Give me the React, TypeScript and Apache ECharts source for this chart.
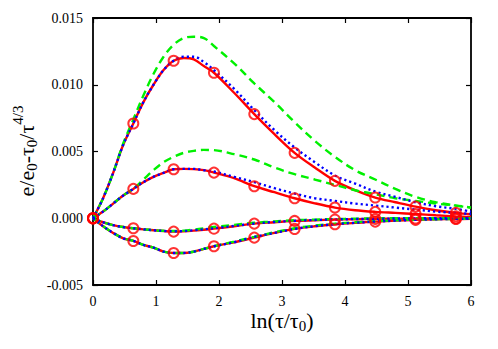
import React, { useEffect, useRef } from "react";
import * as echarts from "echarts";

const xs = [0, 0.16, 0.32, 0.48, 0.64, 0.8, 0.96, 1.12, 1.28, 1.44, 1.6, 1.76, 1.92, 2.24, 2.56, 2.88, 3.2, 3.52, 3.84, 4.16, 4.48, 4.8, 5.12, 5.44, 5.76, 6];

const red1 = [0, 0.0015, 0.0034, 0.0055, 0.0071, 0.0087, 0.0100, 0.0111, 0.0118, 0.0120, 0.0119, 0.0114, 0.0109, 0.0094, 0.0078, 0.0063, 0.0049, 0.0038, 0.0028, 0.0021, 0.00155, 0.0012, 0.00087, 0.0006, 0.0004, 0.0003];
const blue1 = [0, 0.0015, 0.0034, 0.0055, 0.0071, 0.0087, 0.0100, 0.0111, 0.0118, 0.0121, 0.0121, 0.0117, 0.0111, 0.0097, 0.0081, 0.0066, 0.0053, 0.0042, 0.0032, 0.0026, 0.0020, 0.0016, 0.0012, 0.0009, 0.0007, 0.0005];
const green1 = [0, 0.0015, 0.0034, 0.0056, 0.0074, 0.0092, 0.0108, 0.0121, 0.0130, 0.0135, 0.0136, 0.0135, 0.0129, 0.0116, 0.0101, 0.0087, 0.0072, 0.0058, 0.0046, 0.0036, 0.0029, 0.0022, 0.0016, 0.0012, 0.00095, 0.0008];

const red2 = [0, 0.0005, 0.0011, 0.0017, 0.0022, 0.0027, 0.0031, 0.0034, 0.00367, 0.0037, 0.00368, 0.0036, 0.00342, 0.0030, 0.0024, 0.00195, 0.0015, 0.00112, 0.0008, 0.0006, 0.00048, 0.0004, 0.00032, 0.00022, 0.00014, 0.0001];
const blue2 = [0, 0.0005, 0.0011, 0.0017, 0.0022, 0.0027, 0.0031, 0.0034, 0.00367, 0.0037, 0.0037, 0.0036, 0.0035, 0.0031, 0.0027, 0.00225, 0.00185, 0.0015, 0.0013, 0.0011, 0.00095, 0.0008, 0.00065, 0.0005, 0.0004, 0.00032];
const green2 = [0, 0.0005, 0.0011, 0.0017, 0.0022, 0.0029, 0.0036, 0.0042, 0.0046, 0.0049, 0.00505, 0.00512, 0.0051, 0.0048, 0.0044, 0.0038, 0.0033, 0.0029, 0.0025, 0.0021, 0.0018, 0.0015, 0.0013, 0.0011, 0.00095, 0.0008];

const red3 = [0, -0.0003, -0.00052, -0.00066, -0.00075, -0.00083, -0.0009, -0.00096, -0.001, -0.00098, -0.00093, -0.00086, -0.00078, -0.0006, -0.0004, -0.0003, -0.0002, -0.00015, -0.0001, -0.00007, -0.00005, -0.00003, -0.00002, -0.00001, -0.00001, 0];
const blue3 = [0, -0.0003, -0.00052, -0.00066, -0.00075, -0.00083, -0.0009, -0.00095, -0.00098, -0.00096, -0.0009, -0.00083, -0.00075, -0.00058, -0.0004, -0.00028, -0.00019, -0.00013, -0.00009, -0.00006, -0.00004, -0.00002, -0.00001, 0, 0, 0];
const green3 = [0, -0.0003, -0.00052, -0.00066, -0.00075, -0.00083, -0.0009, -0.00094, -0.00096, -0.00093, -0.00085, -0.00076, -0.00066, -0.0005, -0.00034, -0.00024, -0.00015, -0.0001, -0.00006, -0.00003, -0.00001, 0, 0, 0, 0, 0];

const red4 = [0, -0.0006, -0.0011, -0.0015, -0.0017, -0.002, -0.0022, -0.0025, -0.0026, -0.0026, -0.0025, -0.0023, -0.0021, -0.0018, -0.00145, -0.0011, -0.0008, -0.0006, -0.00045, -0.00035, -0.00025, -0.00018, -0.00012, -0.00008, -0.00006, -0.00004];
const blue4 = [0, -0.0006, -0.0011, -0.0015, -0.0017, -0.002, -0.0022, -0.0025, -0.0026, -0.0026, -0.0025, -0.0023, -0.0021, -0.0018, -0.0014, -0.0011, -0.0008, -0.0006, -0.00044, -0.00034, -0.00025, -0.00018, -0.00012, -0.00008, -0.00005, -0.00004];
const green4 = [0, -0.0006, -0.0011, -0.0015, -0.0017, -0.002, -0.0022, -0.0025, -0.0026, -0.0026, -0.0025, -0.0023, -0.0021, -0.00175, -0.0014, -0.00105, -0.00075, -0.00055, -0.0004, -0.0003, -0.00022, -0.00015, -0.0001, -0.00007, -0.00005, -0.00003];

const markerX = [0, 0.64, 1.28, 1.92, 2.56, 3.2, 3.84, 4.48, 5.12, 5.76];

const xTitle = [
  { t: "ln(τ/τ", size: 22, dy: 0 },
  { t: "0", size: 15, dy: 6 },
  { t: ")", size: 22, dy: 0 },
];
const yTitle = [
  { t: "e/e", size: 22, dy: 0 },
  { t: "0", size: 15, dy: 6 },
  { t: "-τ", size: 22, dy: 0 },
  { t: "0", size: 15, dy: 6 },
  { t: "/τ", size: 22, dy: 0 },
  { t: "4/3", size: 15, dy: -8 },
];

const RED = "#ff0000";
const BLUE = "#0000ff";
const GREEN = "#00f000";
const FAMILY = "Liberation Serif";

const pairs = (ys: number[]) => xs.map((x, i) => [x, ys[i]]);
const markerPairs = (ys: number[]) => markerX.map((x) => [x, ys[xs.indexOf(x)]]);

const lineSeries = (ys: number[], color: string, type: any, z: number) => ({
  type: "line",
  data: pairs(ys),
  smooth: 0.35,
  showSymbol: false,
  symbol: "none",
  z,
  lineStyle: { color, width: 2.4, type, cap: "butt" },
  silent: true,
});

function titleGroup(pieces: { t: string; size: number; dy: number }[], x: number, y: number, rotation: number) {
  const ctx = document.createElement("canvas").getContext("2d") as CanvasRenderingContext2D;
  const widths = pieces.map((p) => {
    ctx.font = `${p.size}px ${FAMILY}`;
    return ctx.measureText(p.t).width;
  });
  const total = widths.reduce((a, b) => a + b, 0);
  let cx = -total / 2;
  const children = pieces.map((p, i) => {
    const el = {
      type: "text",
      x: cx,
      y: p.dy,
      style: {
        text: p.t,
        font: `${p.size}px ${FAMILY}`,
        fontFamily: FAMILY,
        fontSize: p.size,
        fill: "#000",
        align: "left",
        verticalAlign: "middle",
      },
    };
    cx += widths[i];
    return el;
  });
  return { type: "group", x, y, rotation, children };
}

export default function App() {
  const ref = useRef<HTMLDivElement>(null);
  useEffect(() => {
    if (!ref.current) return;
    const chart = echarts.init(ref.current, null, { renderer: "svg" });
    const reds = [red1, red2, red3, red4];
    const greens = [green1, green2, green3, green4];
    const blues = [blue1, blue2, blue3, blue4];
    const series: any[] = [];
    reds.forEach((r) => series.push(lineSeries(r, RED, "solid", 2)));
    greens.forEach((g) => series.push(lineSeries(g, GREEN, [8, 5], 3)));
    blues.forEach((b) => series.push(lineSeries(b, BLUE, [2.2, 3], 4)));
    reds.forEach((r) =>
      series.push({
        type: "scatter",
        data: markerPairs(r),
        symbol: "circle",
        symbolSize: 10,
        z: 5,
        itemStyle: { color: "rgba(0,0,0,0)", borderColor: RED, borderWidth: 2 },
        silent: true,
      })
    );

    const axisCommon = {
      axisLine: { show: true, onZero: false, lineStyle: { color: "#000", width: 1.8 } },
      axisTick: { show: true, inside: true, length: 5, lineStyle: { color: "#000", width: 1.2 } },
      splitLine: { show: false },
    };

    chart.setOption({
      animation: false,
      grid: { left: 93, top: 18, width: 378, height: 267 },
      xAxis: [
        {
          type: "value",
          min: 0,
          max: 6,
          interval: 1,
          position: "bottom",
          ...axisCommon,
          axisLabel: { color: "#000", fontFamily: FAMILY, fontSize: 14, margin: 9 },
        },
        {
          type: "value",
          min: 0,
          max: 6,
          interval: 1,
          position: "top",
          ...axisCommon,
          axisLabel: { show: false },
        },
      ],
      yAxis: [
        {
          type: "value",
          min: -0.005,
          max: 0.015,
          interval: 0.005,
          position: "left",
          ...axisCommon,
          axisLabel: {
            color: "#000",
            fontFamily: FAMILY,
            fontSize: 14,
            margin: 10,
            formatter: (v: number) => (Math.abs(v) < 1e-9 ? "0.000" : v.toFixed(3)),
          },
        },
        {
          type: "value",
          min: -0.005,
          max: 0.015,
          interval: 0.005,
          position: "right",
          ...axisCommon,
          axisLabel: { show: false },
        },
      ],
      graphic: [titleGroup(xTitle, 282, 320, 0), titleGroup(yTitle, 26, 151, Math.PI / 2)],
      series,
    });
    return () => chart.dispose();
  }, []);
  return (
    <div
      ref={ref}
      style={{ position: "absolute", left: 0, top: 0, width: 498, height: 349, background: "#fff" }}
    />
  );
}
